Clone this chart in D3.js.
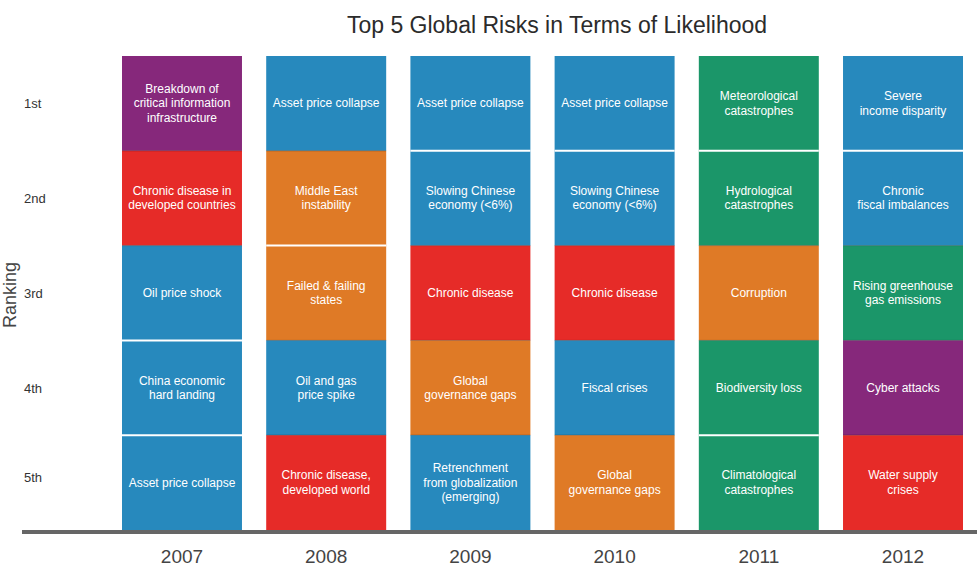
<!DOCTYPE html>
<html>
<head>
<meta charset="utf-8">
<script src="https://cdn.jsdelivr.net/npm/d3@7"></script>
<style>
  body { margin: 0; background: #fff; }
  svg { display: block; font-family: "Liberation Sans", Arial, sans-serif; }
</style>
</head>
<body>
<svg id="chart" width="977" height="569"></svg>
<script>
var years = ["2007", "2008", "2009", "2010", "2011", "2012"];
var ranks = ["1st", "2nd", "3rd", "4th", "5th"];

// risk labels per year, rank 1 to 5 (line breaks as in the picture)
var risks2007 = ["Breakdown of\ncritical information\ninfrastructure", "Chronic disease in\ndeveloped countries", "Oil price shock", "China economic\nhard landing", "Asset price collapse"];
var risks2008 = ["Asset price collapse", "Middle East\ninstability", "Failed & failing\nstates", "Oil and gas\nprice spike", "Chronic disease,\ndeveloped world"];
var risks2009 = ["Asset price collapse", "Slowing Chinese\neconomy (<6%)", "Chronic disease", "Global\ngovernance gaps", "Retrenchment\nfrom globalization\n(emerging)"];
var risks2010 = ["Asset price collapse", "Slowing Chinese\neconomy (<6%)", "Chronic disease", "Fiscal crises", "Global\ngovernance gaps"];
var risks2011 = ["Meteorological\ncatastrophes", "Hydrological\ncatastrophes", "Corruption", "Biodiversity loss", "Climatological\ncatastrophes"];
var risks2012 = ["Severe\nincome disparity", "Chronic\nfiscal imbalances", "Rising greenhouse\ngas emissions", "Cyber attacks", "Water supply\ncrises"];

// risk category per cell
var cats2007 = ["technological", "societal", "economic", "economic", "economic"];
var cats2008 = ["economic", "geopolitical", "geopolitical", "economic", "societal"];
var cats2009 = ["economic", "economic", "societal", "geopolitical", "economic"];
var cats2010 = ["economic", "economic", "societal", "economic", "geopolitical"];
var cats2011 = ["environmental", "environmental", "geopolitical", "environmental", "environmental"];
var cats2012 = ["economic", "economic", "environmental", "technological", "societal"];

var categories = ["economic", "geopolitical", "societal", "environmental", "technological"];
var catColors = ["#2789bd", "#df7a26", "#e62b28", "#1b9669", "#86287b"];

var allRisks = [risks2007, risks2008, risks2009, risks2010, risks2011, risks2012];
var allCats = [cats2007, cats2008, cats2009, cats2010, cats2011, cats2012];

var cells = [];
years.forEach(function(y, i) {
  ranks.forEach(function(r, j) {
    cells.push({year: y, rank: r, label: allRisks[i][j], cat: allCats[i][j],
                prevCat: j > 0 ? allCats[i][j - 1] : null});
  });
});

var svg = d3.select("#chart");

var x = d3.scaleBand().domain(years).range([122, 963]).paddingInner(0.168).paddingOuter(0);
var y = d3.scaleBand().domain(ranks).range([56, 530]).padding(0);
var color = d3.scaleOrdinal().domain(categories).range(catColors);

svg.append("text")
  .attr("x", 557).attr("y", 33)
  .attr("text-anchor", "middle")
  .attr("font-size", 23)
  .attr("fill", "#2b2b2b")
  .text("Top 5 Global Risks in Terms of Likelihood");

var g = svg.selectAll("g.cell").data(cells).enter().append("g").attr("class", "cell");

g.append("rect")
  .attr("x", d => x(d.year))
  .attr("y", d => y(d.rank))
  .attr("width", x.bandwidth())
  .attr("height", y.bandwidth())
  .attr("fill", d => color(d.cat));

// separators: white between same colours, faint dark otherwise
g.filter(d => d.prevCat !== null).append("line")
  .attr("x1", d => x(d.year))
  .attr("x2", d => x(d.year) + x.bandwidth())
  .attr("y1", d => y(d.rank))
  .attr("y2", d => y(d.rank))
  .attr("stroke", d => d.prevCat === d.cat ? "#fff" : "rgba(0,0,0,0.25)")
  .attr("stroke-width", d => d.prevCat === d.cat ? 2 : 1);

g.append("text")
  .attr("text-anchor", "middle")
  .attr("font-size", 12)
  .attr("fill", "#fff")
  .each(function(d) {
    var lines = d.label.split("\n");
    var lh = 14.5;
    var cx = x(d.year) + x.bandwidth() / 2;
    var cy = y(d.rank) + y.bandwidth() / 2 - (lines.length - 1) * lh / 2 + 4;
    d3.select(this).selectAll("tspan").data(lines).enter().append("tspan")
      .attr("x", cx)
      .attr("y", (l, k) => cy + k * lh)
      .text(l => l);
  });

// rank labels
svg.selectAll("text.rank").data(ranks).enter().append("text")
  .attr("class", "rank")
  .attr("x", 24)
  .attr("y", (d, i) => y(d) + y.bandwidth() / 2 + 5 - (i === 4 ? 6 : 0))
  .attr("font-size", 13)
  .attr("fill", "#333")
  .text(d => d);

svg.append("text")
  .attr("transform", "translate(16,295) rotate(-90)")
  .attr("text-anchor", "middle")
  .attr("font-size", 18)
  .attr("fill", "#444")
  .text("Ranking");

// baseline
svg.append("line")
  .attr("x1", 22).attr("x2", 977)
  .attr("y1", 532).attr("y2", 532)
  .attr("stroke", "#666")
  .attr("stroke-width", 4);

svg.selectAll("text.year").data(years).enter().append("text")
  .attr("class", "year")
  .attr("x", d => x(d) + x.bandwidth() / 2)
  .attr("y", 563)
  .attr("text-anchor", "middle")
  .attr("font-size", 19)
  .attr("fill", "#444")
  .text(d => d);
</script>
</body>
</html>
